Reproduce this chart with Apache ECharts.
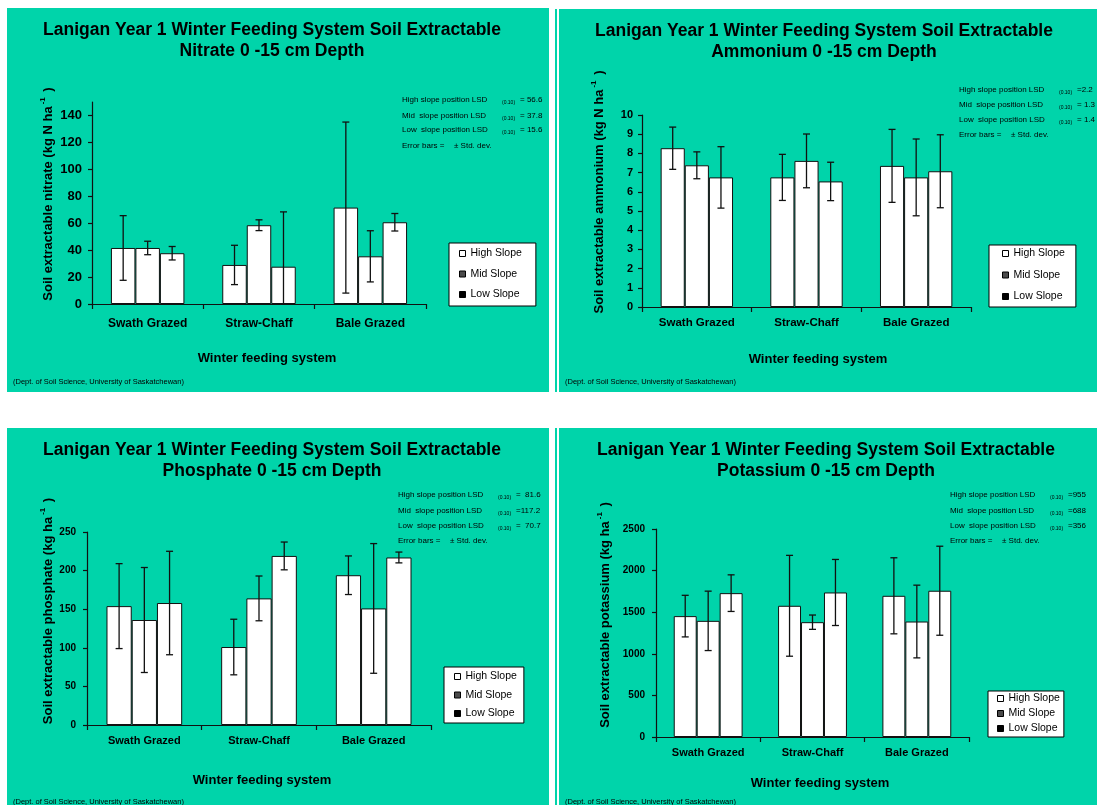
<!DOCTYPE html>
<html>
<head>
<meta charset="utf-8">
<script src="https://cdn.jsdelivr.net/npm/echarts@6/dist/echarts.min.js"></script>
<style>
  html, body { margin: 0; padding: 0; background: #fff; width: 1097px; height: 805px; overflow: hidden; }
  .panel { position: absolute; background: #00D4AA; }
</style>
</head>
<body>
<div class="panel" id="p1" style="left:7px;top:8px;width:542px;height:384px"></div>
<div class="panel" id="p2" style="left:559px;top:9px;width:538px;height:383px"></div>
<div class="panel" id="p3" style="left:7px;top:428px;width:542px;height:377px"></div>
<div class="panel" id="p4" style="left:559px;top:428px;width:538px;height:377px"></div>
<div class="panel" style="left:555px;top:9px;width:2px;height:383px"></div>
<div class="panel" style="left:555px;top:428px;width:2px;height:377px"></div>
<script>
// Feeding systems and slope positions
const categories = ['Swath Grazed', 'Straw-Chaff', 'Bale Grazed'];
const slopeNames = ['High Slope', 'Mid Slope', 'Low Slope'];

// Nitrate (kg N/ha): means and standard deviations
const nitrateHigh = [41.6, 29.0, 71.6];
const nitrateMid = [41.6, 58.5, 35.4];
const nitrateLow = [37.7, 27.7, 60.7];
const nitrateHighSd = [24.0, 14.6, 63.5];
const nitrateMidSd = [5.0, 4.0, 19.0];
const nitrateLowSd = [5.0, 40.7, 6.5];
const nitrateLsd = ['= 56.6', '= 37.8', '= 15.6'];
const nitrateTicks = [0, 20, 40, 60, 80, 100, 120, 140];

// Ammonium (kg N/ha)
const ammoniumHigh = [8.27, 6.75, 7.35];
const ammoniumMid = [7.38, 7.61, 6.75];
const ammoniumLow = [6.75, 6.54, 7.07];
const ammoniumHighSd = [1.1, 1.2, 1.9];
const ammoniumMidSd = [0.7, 1.4, 2.0];
const ammoniumLowSd = [1.6, 1.0, 1.9];
const ammoniumLsd = ['=2.2', '= 1.3', '= 1.4'];
const ammoniumTicks = [0, 1, 2, 3, 4, 5, 6, 7, 8, 9, 10];

// Phosphate (kg/ha)
const phosphateHigh = [154, 101, 194];
const phosphateMid = [136, 164, 151];
const phosphateLow = [158, 219, 217];
const phosphateHighSd = [55, 36, 25];
const phosphateMidSd = [68, 29, 84];
const phosphateLowSd = [67, 18, 7];
const phosphateLsd = ['=  81.6', '=117.2', '=  70.7'];
const phosphateTicks = [0, 50, 100, 150, 200, 250];

// Potassium (kg/ha)
const potassiumHigh = [1453, 1577, 1697];
const potassiumMid = [1396, 1380, 1388];
const potassiumLow = [1729, 1737, 1758];
const potassiumHighSd = [250, 606, 457];
const potassiumMidSd = [357, 86, 437];
const potassiumLowSd = [220, 397, 535];
const potassiumLsd = ['=955', '=688', '=356'];
const potassiumTicks = [0, 500, 1000, 1500, 2000, 2500];

const FONT = '"Liberation Sans", Arial, Helvetica, sans-serif';
const GAP = 0.34;
const INK = '#111';

function errorBar(params, api) {
  const cat = api.value(0), mean = api.value(1), sd = api.value(2), s = api.value(3);
  const band = api.size([1, 0])[0];
  const bw = band * (1 - GAP) / 3;
  const x = api.coord([cat, mean])[0] + (s - 1) * bw;
  const top = api.coord([cat, mean + sd])[1];
  const lowVal = mean - sd;
  const bot = api.coord([cat, Math.max(lowVal, 0)])[1];
  const st = { stroke: INK, lineWidth: 1.3 };
  const kids = [
    { type: 'line', shape: { x1: x, y1: top, x2: x, y2: bot }, style: st },
    { type: 'line', shape: { x1: x - 3.5, y1: top, x2: x + 3.5, y2: top }, style: st }
  ];
  if (lowVal > 0) kids.push({ type: 'line', shape: { x1: x - 3.5, y1: bot, x2: x + 3.5, y2: bot }, style: st });
  return { type: 'group', children: kids };
}

function txt(x, y, text, size, extra) {
  return {
    type: 'text', x: x, y: y, silent: true,
    style: Object.assign({ text: text, fill: '#000', fontSize: size, fontFamily: FONT, align: 'left', verticalAlign: 'middle' }, extra || {})
  };
}

function buildPanel(cfg) {
  const chart = echarts.init(document.getElementById(cfg.el), null, { renderer: 'canvas' });
  const means = cfg.means, sds = cfg.sds;
  const series = [];
  slopeNames.forEach(function (name, s) {
    series.push({
      type: 'bar', name: name, data: means[s], barGap: '0%', barCategoryGap: (GAP * 100) + '%',
      itemStyle: { color: '#fff', borderColor: INK, borderWidth: 1 }, z: 2, silent: true
    });
  });
  const errData = [];
  slopeNames.forEach(function (name, s) {
    means[s].forEach(function (m, c) { errData.push([c, m, sds[s][c], s]); });
  });
  series.push({ type: 'custom', renderItem: errorBar, data: errData, encode: { x: 0, y: 1 }, z: 3, silent: true });

  const g = [];
  g.push({
    type: 'text', x: cfg.titleX, y: cfg.titleY, silent: true,
    style: { text: cfg.title, fill: '#000', fontSize: 17.5, fontWeight: 'bold', fontFamily: FONT, lineHeight: 21, align: 'center', verticalAlign: 'middle' }
  });
  g.push({
    type: 'text', x: cfg.yNameX, y: cfg.yNameY, rotation: Math.PI / 2, silent: true,
    style: {
      text: '{a|' + cfg.yName + '}{b|-1}{a| )}', align: 'center', verticalAlign: 'middle',
      rich: {
        a: { fontSize: 13, fontWeight: 'bold', fontFamily: FONT, fill: '#000', color: '#000', lineHeight: 16, verticalAlign: 'bottom' },
        b: { fontSize: 8, fontWeight: 'bold', fontFamily: FONT, fill: '#000', color: '#000', lineHeight: 16, verticalAlign: 'top', padding: [0, 2, 0, 2] }
      }
    }
  });
  g.push(txt(cfg.xNameX, cfg.xNameY, 'Winter feeding system', 13, { fontWeight: 'bold', align: 'center' }));
  g.push(txt(cfg.footX, cfg.footY, '(Dept. of Soil Science, University of Saskatchewan)', 7.5));
  const lsdLabels = ['High slope position LSD', 'Mid  slope position LSD', 'Low  slope position LSD'];
  lsdLabels.forEach(function (lab, i) {
    const y = cfg.lsdY[i];
    g.push(txt(cfg.lsdX, y, lab, 8));
    g.push(txt(cfg.lsdX + 100, y + 3, '(0.10)', 5));
    g.push(txt(cfg.lsdX + 118, y, cfg.lsd[i], 8));
  });
  g.push(txt(cfg.lsdX, cfg.lsdY[3], 'Error bars =', 8));
  g.push(txt(cfg.lsdX + 52, cfg.lsdY[3], '\u00b1 Std. dev.', 8));

  chart.setOption({
    animation: false,
    backgroundColor: 'transparent',
    textStyle: { fontFamily: FONT },
    grid: { left: cfg.grid[0], top: cfg.grid[1], width: cfg.grid[2], height: cfg.grid[3], containLabel: false },
    xAxis: {
      type: 'category', data: categories,
      axisLine: { lineStyle: { color: INK, width: 1.2 } },
      axisTick: { show: true, length: 5, lineStyle: { color: INK, width: 1.2 } },
      axisLabel: { color: '#000', fontWeight: 'bold', fontSize: cfg.xLabelSize, margin: cfg.xLabelMargin, fontFamily: FONT },
      splitLine: { show: false }
    },
    yAxis: {
      type: 'value', min: 0, max: cfg.max, interval: cfg.ticks[1] - cfg.ticks[0],
      axisLine: { show: true, lineStyle: { color: INK, width: 1.2 } },
      axisTick: { show: true, length: 4, customValues: cfg.ticks, lineStyle: { color: INK, width: 1.2 } },
      axisLabel: {
        color: '#000', fontWeight: 'bold', fontSize: cfg.yLabelSize, margin: cfg.yLabelMargin,
        customValues: cfg.ticks, fontFamily: FONT, formatter: function (v) { return String(v); }
      },
      splitLine: { show: false }
    },
    legend: {
      orient: 'vertical', left: cfg.legend[0], top: cfg.legend[1], padding: cfg.legendPad,
      itemWidth: 6, itemHeight: 6, icon: 'rect', itemGap: cfg.legendGap, selectedMode: false,
      backgroundColor: '#fff', borderColor: '#000', borderWidth: 1, borderRadius: 0,
      textStyle: { fontSize: 10.5, color: '#000', fontFamily: FONT },
      data: [
        { name: 'High Slope', itemStyle: { color: '#fff', borderColor: '#000', borderWidth: 1 } },
        { name: 'Mid Slope', itemStyle: { color: '#4a4a4a', borderColor: '#000', borderWidth: 1 } },
        { name: 'Low Slope', itemStyle: { color: '#000', borderColor: '#000', borderWidth: 1 } }
      ]
    },
    graphic: g,
    series: series
  });
}

buildPanel({
  el: 'p1', title: 'Lanigan Year 1 Winter Feeding System Soil Extractable\nNitrate 0 -15 cm Depth', titleX: 265, titleY: 32.5,
  yName: 'Soil extractable nitrate (kg N ha', yNameX: 40, yNameY: 186,
  grid: [85, 94, 334, 202], max: 150, ticks: nitrateTicks, yLabelSize: 13, yLabelMargin: 10,
  xLabelSize: 12, xLabelMargin: 14, xNameX: 260, xNameY: 350,
  lsdX: 395, lsdY: [92, 108, 122, 138], lsd: nitrateLsd,
  legend: [442, 235], legendPad: [5, 14, 6, 10], legendGap: 9.5,
  footX: 6, footY: 374,
  means: [nitrateHigh, nitrateMid, nitrateLow], sds: [nitrateHighSd, nitrateMidSd, nitrateLowSd]
});

buildPanel({
  el: 'p2', title: 'Lanigan Year 1 Winter Feeding System Soil Extractable\nAmmonium 0 -15 cm Depth', titleX: 265, titleY: 33,
  yName: 'Soil extractable ammonium (kg N ha', yNameX: 39, yNameY: 183,
  grid: [83, 106, 329, 192], max: 10, ticks: ammoniumTicks, yLabelSize: 11, yLabelMargin: 9,
  xLabelSize: 11.5, xLabelMargin: 10, xNameX: 259, xNameY: 350,
  lsdX: 400, lsdY: [81, 96, 111, 126], lsd: ammoniumLsd,
  legend: [430, 236], legendPad: [3, 11, 5, 13], legendGap: 10.5,
  footX: 6, footY: 373,
  means: [ammoniumHigh, ammoniumMid, ammoniumLow], sds: [ammoniumHighSd, ammoniumMidSd, ammoniumLowSd]
});

buildPanel({
  el: 'p3', title: 'Lanigan Year 1 Winter Feeding System Soil Extractable\nPhosphate 0 -15 cm Depth', titleX: 265, titleY: 32.5,
  yName: 'Soil extractable phosphate (kg ha', yNameX: 40, yNameY: 183,
  grid: [80, 104, 344, 193], max: 250, ticks: phosphateTicks, yLabelSize: 10, yLabelMargin: 11,
  xLabelSize: 11, xLabelMargin: 10, xNameX: 255, xNameY: 352,
  lsdX: 391, lsdY: [67, 83, 98, 113], lsd: phosphateLsd,
  legend: [437, 239], legendPad: [4, 7, 4, 10], legendGap: 7.5,
  footX: 6, footY: 374,
  means: [phosphateHigh, phosphateMid, phosphateLow], sds: [phosphateHighSd, phosphateMidSd, phosphateLowSd]
});

buildPanel({
  el: 'p4', title: 'Lanigan Year 1 Winter Feeding System Soil Extractable\nPotassium 0 -15 cm Depth', titleX: 267, titleY: 32.5,
  yName: 'Soil extractable potassium (kg ha', yNameX: 45, yNameY: 187,
  grid: [97, 101, 313, 208], max: 2500, ticks: potassiumTicks, yLabelSize: 10, yLabelMargin: 11,
  xLabelSize: 11, xLabelMargin: 10, xNameX: 261, xNameY: 355,
  lsdX: 391, lsdY: [67, 83, 98, 113], lsd: potassiumLsd,
  legend: [429, 263], legendPad: [2, 4, 3, 9], legendGap: 4,
  footX: 6, footY: 374,
  means: [potassiumHigh, potassiumMid, potassiumLow], sds: [potassiumHighSd, potassiumMidSd, potassiumLowSd]
});
</script>
</body>
</html>
